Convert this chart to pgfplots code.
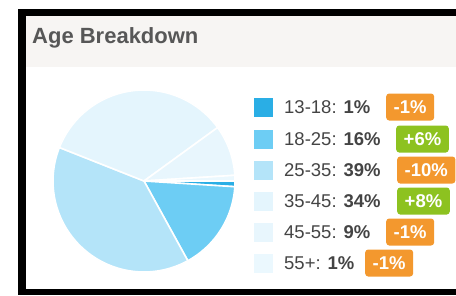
\documentclass[border=0pt]{standalone}
\usepackage{pgfplots}
\pgfplotsset{compat=1.18}
\usepackage{fontspec}
\setmainfont{Liberation Sans}
\definecolor{cA}{HTML}{2AAEE5}
\definecolor{cB}{HTML}{6DCDF4}
\definecolor{cC}{HTML}{B4E4F9}
\definecolor{cD}{HTML}{E4F5FD}
\definecolor{cE}{HTML}{E8F6FD}
\definecolor{cF}{HTML}{EBF8FE}
\definecolor{org}{HTML}{F3982E}
\definecolor{grn}{HTML}{8DC220}
\definecolor{txt}{HTML}{444444}
\definecolor{ttl}{HTML}{575757}
\definecolor{hdr}{HTML}{F7F5F3}
\newcommand{\lbl}{\fontsize{18.5bp}{22bp}\selectfont}
% cumulative share before the slice, share of the slice, colour
\newcommand{\slice}[3]{\addplot[fill=#3, draw=white, line width=1.6bp, line join=round, domain=-3.6*(#1+#2):-3.6*#1, samples=90] ({144+91*cos(x)},{114+91*sin(x)}) -- (axis cs:144,114) -- cycle;}
% y centre, colour, label, value, change, badge colour, badge x
\newcommand{\legrow}[7]{%
 \fill[#2] (254,#1-9.5) rectangle (273,#1+9.5);
 \node[anchor=base west, inner sep=0pt, text=txt, font=\lbl] at (284,#1-6.6) {#3: \textbf{#4\%}};
 \node[anchor=west, fill=#6, rounded corners=3bp, text=white, font=\lbl\bfseries, minimum height=27bp, inner xsep=7.5bp, inner ysep=0pt, text height=13.2bp, text depth=0pt] at (#7,#1) {#5\%};
}
\begin{document}
\begin{tikzpicture}
\begin{scope}[x=1bp,y=1bp]
\fill[hdr] (26,228) rectangle (456,279);
\fill[black] (18,0) rectangle (26,286);
\fill[black] (18,279) rectangle (456,286);
\fill[black] (18,0) rectangle (456,6);
\node[anchor=base west, inner sep=0pt, text=ttl, font=\fontsize{22bp}{26bp}\selectfont\bfseries] at (32,252) {Age Breakdown};
\end{scope}
\begin{axis}[at={(0,0)}, anchor=south west, scale only axis, width=456bp, height=295bp,
  xmin=0, xmax=456, ymin=0, ymax=295, hide axis, clip=false]
\slice{0}{1}{cA}
\slice{1}{16}{cB}
\slice{17}{39}{cC}
\slice{56}{34}{cD}
\slice{90}{9}{cE}
\slice{99}{1}{cF}
\end{axis}
\begin{scope}[x=1bp,y=1bp]
\legrow{188}{cA}{13-18}{1}{-1}{org}{386}
\legrow{156}{cB}{18-25}{16}{+6}{grn}{396}
\legrow{125}{cC}{25-35}{39}{-10}{org}{397}
\legrow{94}{cD}{35-45}{34}{+8}{grn}{397}
\legrow{63}{cE}{45-55}{9}{-1}{org}{386}
\legrow{32}{cF}{55+}{1}{-1}{org}{365}
\pgfresetboundingbox
\path[use as bounding box] (0,0) rectangle (456,295);
\end{scope}
\end{tikzpicture}
\end{document}
